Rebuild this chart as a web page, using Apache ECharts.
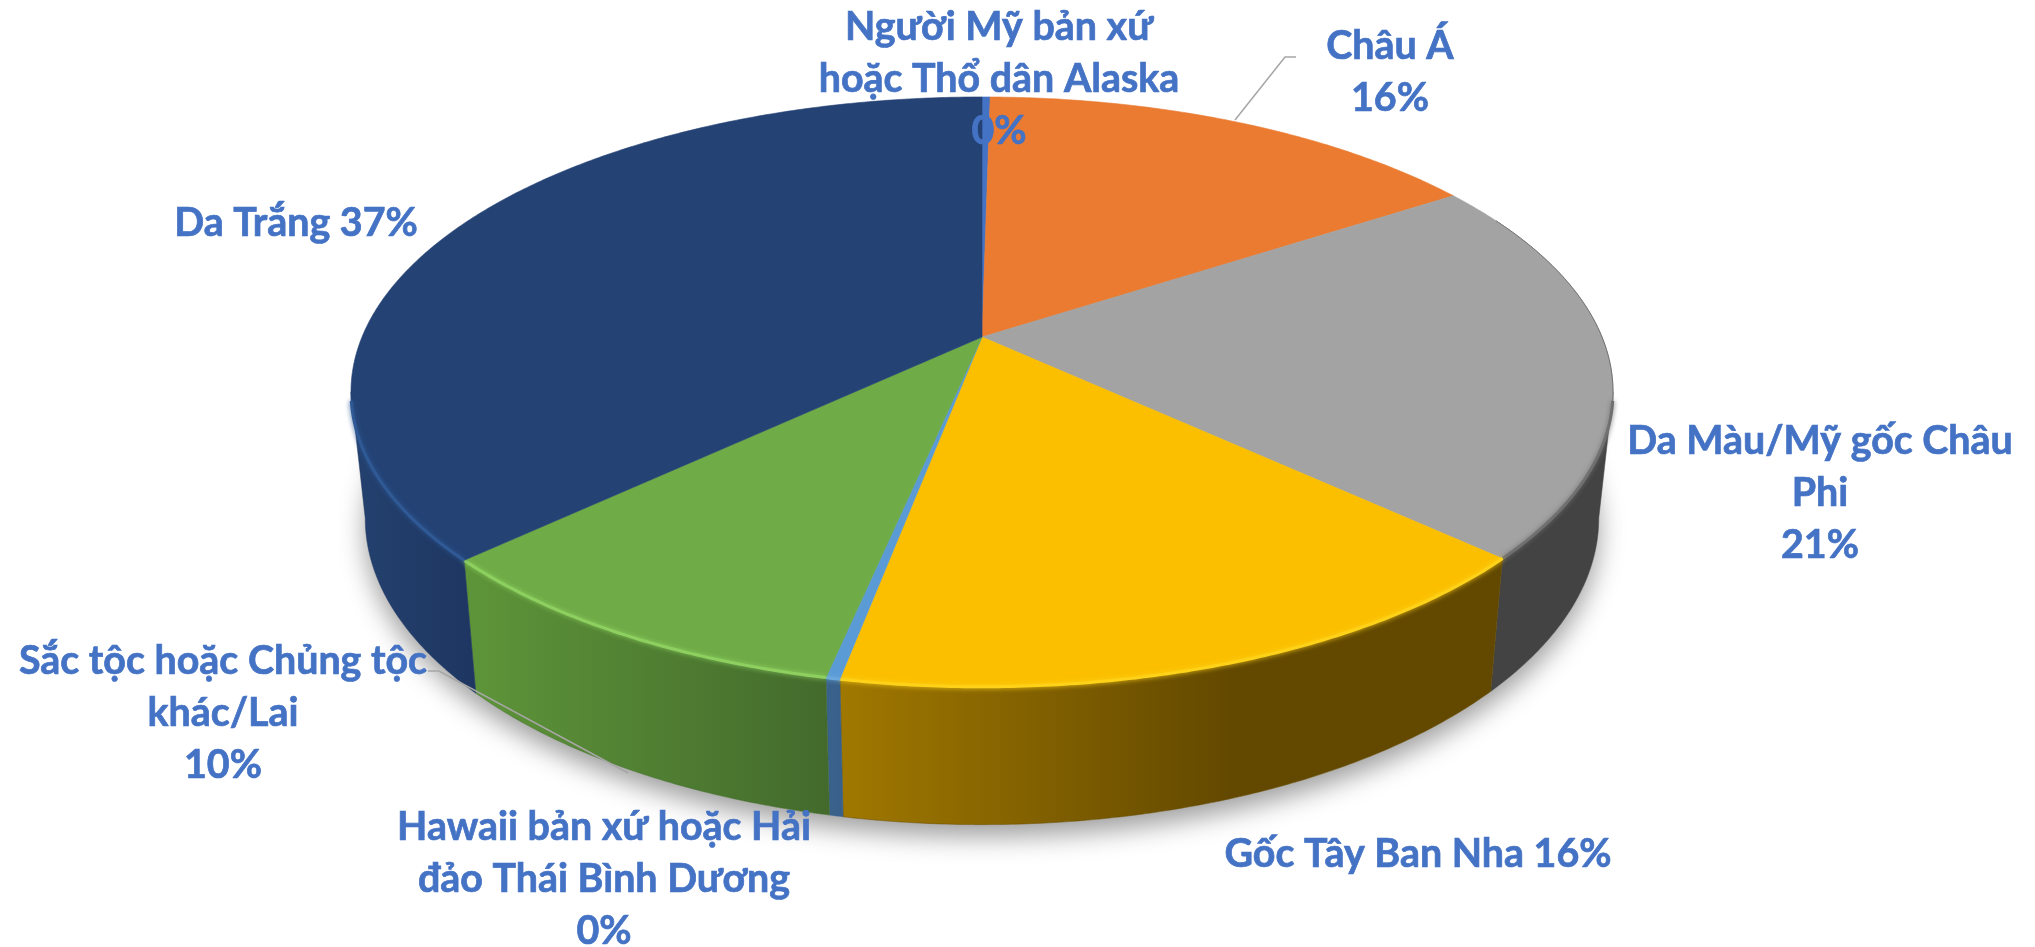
<!DOCTYPE html>
<html>
<head>
<meta charset="utf-8">
<style>
  html, body { margin: 0; padding: 0; background: #fff; }
  #pie3d { width: 2035px; height: 947px; }
</style>
</head>
<body>
<div id="pie3d"></div>
<script src="https://cdn.jsdelivr.net/npm/echarts@6/dist/echarts.min.js"></script>
<script>
// data, clockwise from 12 o'clock
const sliceNames = [
  'Người Mỹ bản xứ\nhoặc Thổ dân Alaska',
  'Châu Á',
  'Da Màu/Mỹ gốc Châu\nPhi',
  'Gốc Tây Ban Nha',
  'Hawaii bản xứ hoặc Hải\nđảo Thái Bình Dương',
  'Sắc tộc hoặc Chủng tộc\nkhác/Lai',
  'Da Trắng'
];
const sliceValues = [0.25, 15.55, 21.1, 16.1, 0.3, 9.7, 37];

// styles
const topColors = ['#4472C4', '#EA7B31', '#A3A3A3', '#FBBF00', '#5B9BD5', '#6FAB47', '#244274'];
const wallLeft = ['#2F5597', '#9E5A24', '#434343', '#A07800', '#3A638C', '#5E9539', '#24416F'];
const wallRight = ['#2F5597', '#9E5A24', '#434343', '#634900', '#38608A', '#436A2C', '#1E3661'];
const rimColors = [null, null, '#707070', '#FFD21A', '#6BA8DE', '#8ED060', '#2F5A96'];

// label layout
const labelCenters = [[999, 79], [1390, 72], [1820, 493], [1418, 854], [604, 879], [223, 713], [296, 223]];
const labelJoin = ['\n', '\n', '\n', ' ', '\n', '\n', ' '];
const leaderLines = [
  [[1235, 120], [1285, 57], [1296, 57]],
  [[428, 671], [439, 671], [628, 773]]
];
const labelFont = 'bold 39.4px Lato, "Noto Sans", sans-serif';

// perspective of the disc
const CX = 982;
const TILT = 0.186;
const topFace = { a: 620, b: 284.7, cy: 337 };
const bottomFace = { a: 606, b: 296, cy: 461 };
const STEP = Math.PI / 360;
// the wall is only seen between these angles, its outline runs straight there
const SIDE_R = Math.acos(-TILT);
const SIDE_L = Math.PI * 2 - SIDE_R;

function project(face, theta) {
  const u = Math.sin(theta);
  const v = Math.cos(theta);
  const w = 1 + TILT * v;
  return [CX + face.a * u / w, face.cy - face.b * v / w];
}

function arc(face, from, to) {
  const pts = [];
  const n = Math.max(2, Math.ceil((to - from) / STEP));
  for (let i = 0; i <= n; i++) {
    pts.push(project(face, from + (to - from) * i / n));
  }
  return pts;
}

const total = sliceValues.reduce((s, v) => s + v, 0);

function sliceAngles(idx) {
  let sum = 0;
  for (let i = 0; i < idx; i++) sum += sliceValues[i];
  const from = sum / total * Math.PI * 2;
  return [from, from + sliceValues[idx] / total * Math.PI * 2];
}

function renderShadow() {
  return {
    type: 'polygon',
    shape: { points: arc(bottomFace, 0, Math.PI * 2) },
    style: {
      fill: '#dddddd',
      shadowBlur: 26,
      shadowOffsetY: 12,
      shadowColor: 'rgba(0,0,0,0.38)'
    }
  };
}

function renderWall(params, api) {
  const idx = params.dataIndex;
  const angles = sliceAngles(idx);
  const from = Math.max(angles[0], SIDE_R);
  const to = Math.min(angles[1], SIDE_L);
  if (to <= from) return null;
  const upper = arc(topFace, from, to);
  const lower = arc(bottomFace, from, to).reverse();
  const xs = upper.concat(lower).map(p => p[0]);
  // shading is flat on the right part of the disc
  const x1 = Math.min.apply(null, xs);
  const x2 = Math.min(Math.max.apply(null, xs), idx === 3 ? 1230 : 1e5);
  return {
    type: 'polygon',
    shape: { points: upper.concat(lower) },
    style: {
      fill: {
        type: 'linear', x: x1, y: 0, x2: x2, y2: 0, global: true,
        colorStops: [
          { offset: 0, color: wallLeft[idx] },
          { offset: 1, color: wallRight[idx] }
        ]
      },
      stroke: wallRight[idx],
      lineWidth: 0.5
    }
  };
}

function rimLine(from, to, color, width, blur) {
  return {
    type: 'polyline',
    shape: { points: arc(topFace, from, to) },
    style: { fill: null, stroke: color, lineWidth: width, shadowBlur: blur, shadowColor: color }
  };
}

function renderTop(params, api) {
  const idx = params.dataIndex;
  const [from, to] = sliceAngles(idx);
  const apex = [CX, topFace.cy];
  const children = [{
    type: 'polygon',
    shape: { points: [apex].concat(arc(topFace, from, to)) },
    style: { fill: topColors[idx], stroke: topColors[idx], lineWidth: 0.6 }
  }];
  if (rimColors[idx]) {
    // bevel along the front edge, a hairline on the grey slice further up
    const rimFrom = Math.max(from, SIDE_R + 0.03);
    const rimTo = Math.min(to, SIDE_L - 0.03);
    if (rimTo > rimFrom) children.push(rimLine(rimFrom, rimTo, rimColors[idx], 3, 5));
    const hairTo = Math.min(to, SIDE_R + 0.03);
    if (hairTo > from) children.push(rimLine(from + 0.12, hairTo, rimColors[idx], 1, 0));
  }
  return { type: 'group', children: children };
}

function renderLabel(params, api) {
  const idx = params.dataIndex;
  const pct = Math.round(sliceValues[idx] / total * 100) + '%';
  return {
    type: 'text',
    style: {
      x: labelCenters[idx][0],
      y: labelCenters[idx][1],
      text: sliceNames[idx] + labelJoin[idx] + pct,
      font: labelFont,
      lineHeight: 52,
      fill: '#4472C4',
      stroke: '#4472C4',
      lineWidth: 0.7,
      align: 'center',
      verticalAlign: 'middle'
    }
  };
}

function renderLeader(params, api) {
  return {
    type: 'polyline',
    shape: { points: leaderLines[params.dataIndex] },
    style: { fill: null, stroke: '#A6A6A6', lineWidth: 1.5 }
  };
}

const pie3d = echarts.init(document.getElementById('pie3d'));

const option = {
  backgroundColor: '#fff',
  animation: false,
  series: [
    { type: 'custom', coordinateSystem: 'none', silent: true, z: 1, data: [0], renderItem: renderShadow },
    { type: 'custom', coordinateSystem: 'none', silent: true, z: 2, data: sliceValues, renderItem: renderWall },
    { type: 'custom', coordinateSystem: 'none', silent: true, z: 3, data: sliceValues, renderItem: renderTop },
    { type: 'custom', coordinateSystem: 'none', silent: true, z: 4, data: leaderLines.map((l, i) => i), renderItem: renderLeader },
    { type: 'custom', coordinateSystem: 'none', silent: true, z: 5, data: sliceValues, renderItem: renderLabel }
  ]
};

pie3d.setOption(option);
</script>
</body>
</html>
